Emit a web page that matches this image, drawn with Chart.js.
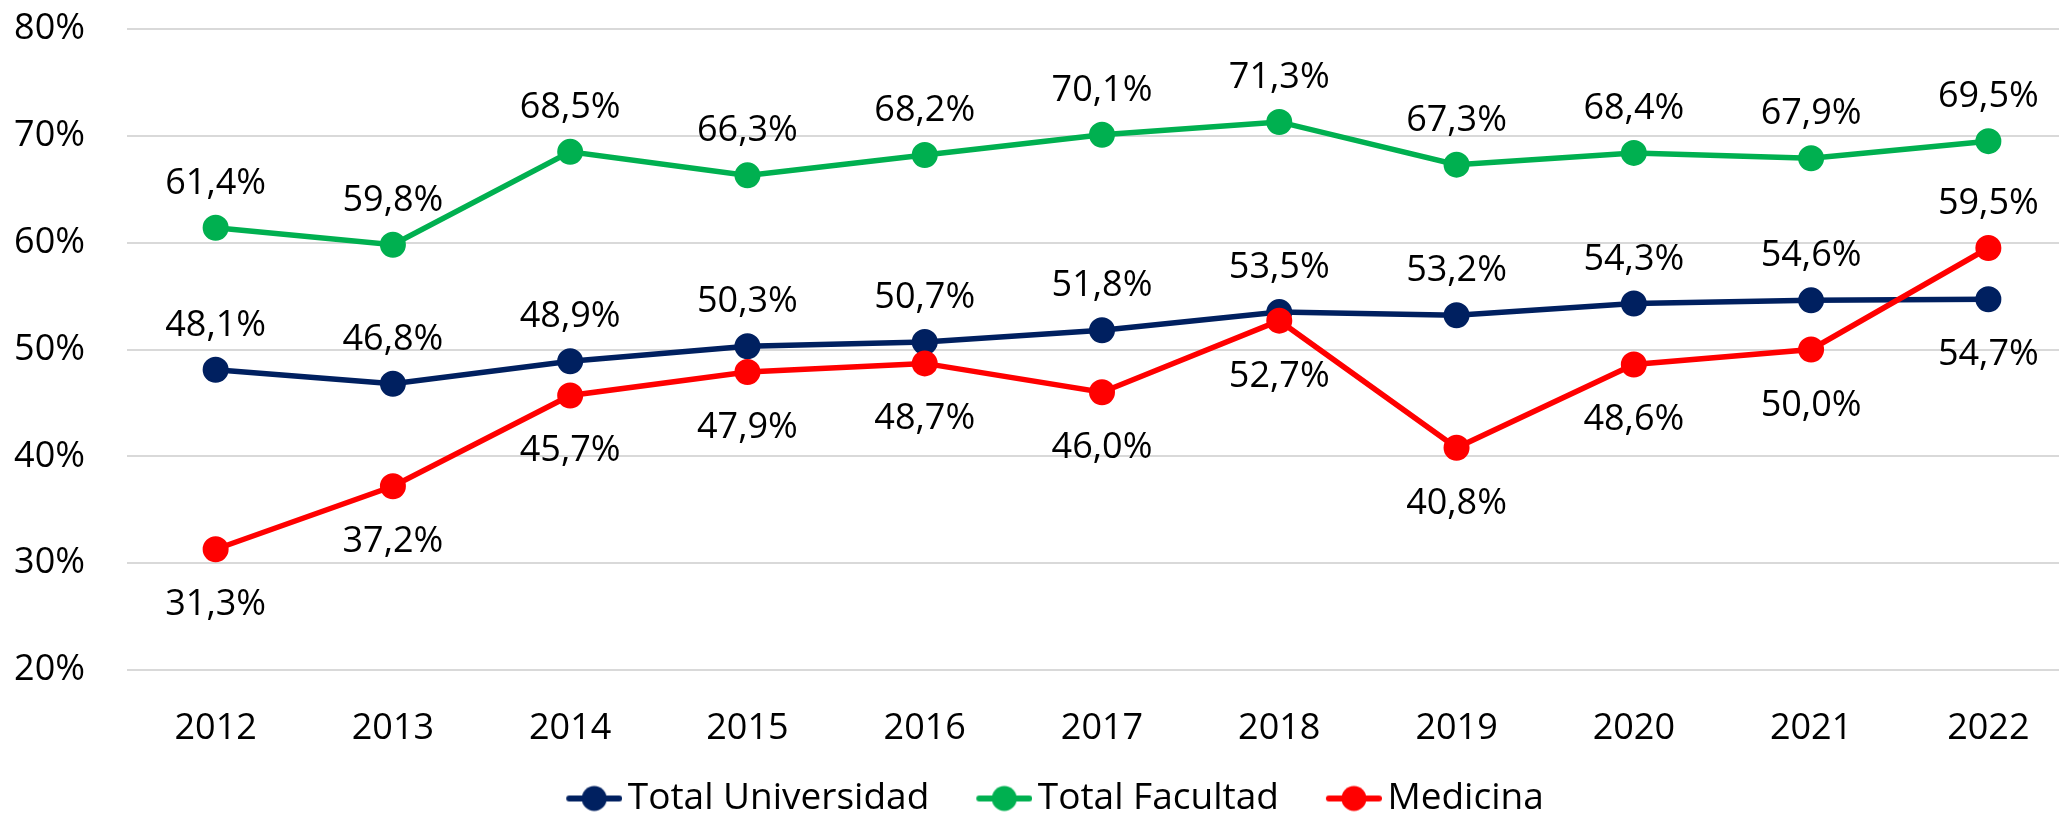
<!DOCTYPE html>
<html>
<head>
<meta charset="utf-8">
<script src="https://cdn.jsdelivr.net/npm/chart.js@4/dist/chart.umd.min.js"></script>
<style>
html,body{margin:0;padding:0;background:#fff;overflow:hidden;width:2059px;height:813px}
#wrap{position:absolute;left:0;top:0;width:2077px;height:827px}
canvas{display:block}
</style>
</head>
<body>
<div id="wrap"><canvas id="c" width="2077" height="827"></canvas></div>
<script>
const years = ['2012','2013','2014','2015','2016','2017','2018','2019','2020','2021','2022'];
const totalUniversidad = [48.1, 46.8, 48.9, 50.3, 50.7, 51.8, 53.5, 53.2, 54.3, 54.6, 54.7];
const totalFacultad   = [61.4, 59.8, 68.5, 66.3, 68.2, 70.1, 71.3, 67.3, 68.4, 67.9, 69.5];
const medicina        = [31.3, 37.2, 45.7, 47.9, 48.7, 46.0, 52.7, 40.8, 48.6, 50.0, 59.5];
const yTickValues = [20, 30, 40, 50, 60, 70, 80];
const seriesNames = ['Total Universidad', 'Total Facultad', 'Medicina'];

const COLORS = ['#002060', '#00B050', '#FF0000'];
const FONT = "'Open Sans'";
const FS = 36;
const LEGEND_FS = 37;

function fmt(v){ return v.toFixed(1).replace('.', ',') + '%'; }

function legendMarker(color){
  const c = document.createElement('canvas');
  c.width = 95; c.height = 30;
  const g = c.getContext('2d');
  g.strokeStyle = color; g.lineWidth = 6; g.lineCap = 'round';
  g.beginPath(); g.moveTo(42, 15); g.lineTo(92, 15); g.stroke();
  g.fillStyle = color;
  g.beginPath(); g.arc(67, 15, 12.5, 0, Math.PI*2); g.fill();
  return c;
}

const pointLabels = {
  id: 'pointLabels',
  afterDatasetsDraw(chart){
    const ctx = chart.ctx;
    ctx.save();
    ctx.font = FS + 'px ' + FONT;
    ctx.fillStyle = '#000';
    ctx.textAlign = 'center';
    ctx.textBaseline = 'alphabetic';
    chart.data.datasets.forEach((ds, di) => {
      const meta = chart.getDatasetMeta(di);
      meta.data.forEach((pt, i) => {
        const below = ds.labelBelow[i];
        const y = below ? pt.y + 66 : pt.y - 34;
        ctx.fillText(fmt(ds.data[i]), pt.x, y);
      });
    });
    ctx.restore();
  }
};

function makeDataset(idx, data, order, belowFn){
  return {
    label: seriesNames[idx],
    data: data,
    borderColor: COLORS[idx],
    backgroundColor: COLORS[idx],
    pointBackgroundColor: COLORS[idx],
    pointBorderColor: COLORS[idx],
    borderWidth: 5.5,
    pointRadius: 12,
    pointBorderWidth: 2,
    tension: 0,
    fill: false,
    clip: false,
    order: order,
    labelBelow: data.map((_, i) => belowFn(i, data.length))
  };
}

function draw(){
  Chart.defaults.font.family = FONT;
  Chart.defaults.font.size = FS;
  Chart.defaults.color = '#000';
  const markers = COLORS.map(legendMarker);
  new Chart(document.getElementById('c'), {
    type: 'line',
    data: {
      labels: years,
      datasets: [
        makeDataset(0, totalUniversidad, 2, (i, n) => i === n - 1),
        makeDataset(1, totalFacultad, 1, () => false),
        makeDataset(2, medicina, 0, (i, n) => i !== n - 1)
      ]
    },
    options: {
      responsive: false,
      animation: false,
      layout: { autoPadding: false, padding: { top: 29, left: 7, right: 0, bottom: 0 } },
      scales: {
        x: {
          offset: true,
          grid: { display: false, drawTicks: false },
          border: { display: false },
          ticks: { padding: 37, font: { size: FS }, color: '#000' },
          afterFit(s){ s.height = 89; s.paddingLeft = 0; s.paddingRight = 0; }
        },
        y: {
          min: 20, max: 80,
          afterBuildTicks(s){ s.ticks = yTickValues.map(v => ({ value: v })); },
          grid: { color: '#D9D9D9', lineWidth: 2, drawTicks: false },
          border: { display: false },
          ticks: { padding: 42, font: { size: FS }, color: '#000', callback: v => v + '%' },
          afterFit(s){ s.width = 120; s.paddingTop = 0; s.paddingBottom = 0; }
        }
      },
      plugins: {
        tooltip: { enabled: false },
        legend: {
          position: 'bottom',
          labels: {
            usePointStyle: true,
            pointStyleWidth: 69,
            padding: 21,
            font: { size: LEGEND_FS },
            color: '#000',
            sort: (a, b) => a.datasetIndex - b.datasetIndex,
            generateLabels(chart){
              const items = Chart.defaults.plugins.legend.labels.generateLabels(chart);
              items.forEach(it => { it.pointStyle = markers[it.datasetIndex]; });
              return items;
            }
          }
        }
      }
    },
    plugins: [pointLabels]
  });
}

if (document.fonts && document.fonts.load) {
  document.fonts.load(FS + 'px ' + FONT).then(draw, draw);
} else { draw(); }
</script>
</body>
</html>
